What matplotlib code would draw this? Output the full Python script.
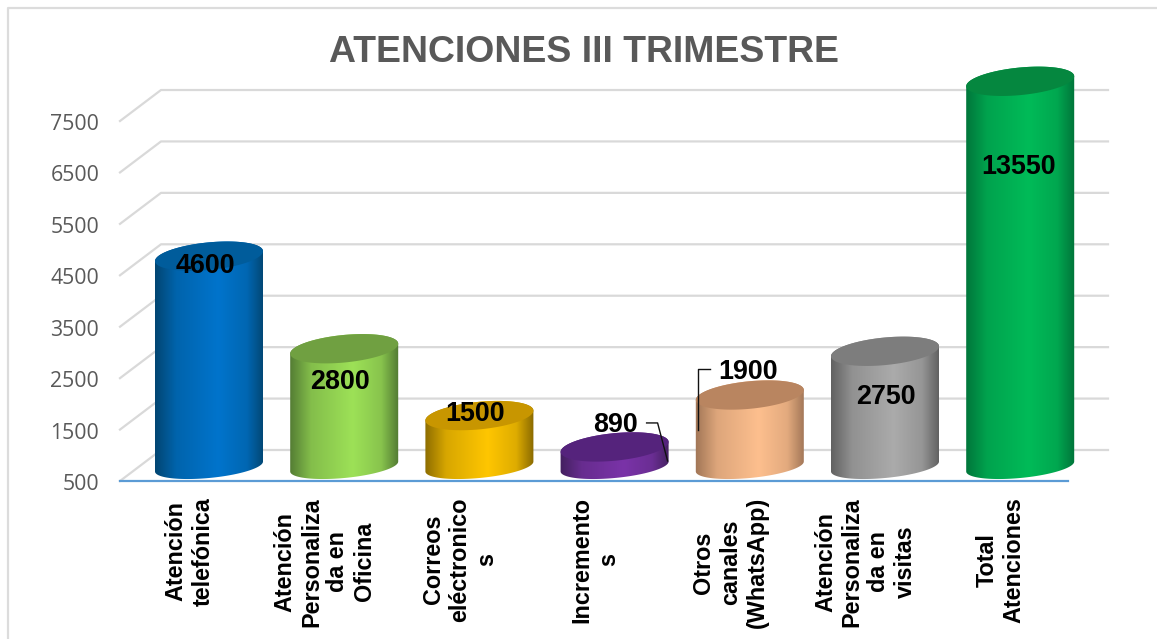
import numpy as np
import matplotlib
matplotlib.use("Agg")
import matplotlib.pyplot as plt
from matplotlib.patches import Polygon
from matplotlib.transforms import IdentityTransform, Affine2D
from matplotlib.colors import to_rgb

W, H = 1157, 639
categories = ["Atención\ntelefónica", "Atención\nPersonaliza\nda en\nOficina",
              "Correos\neléctronico\ns", "Incremento\ns",
              "Otros\ncanales\n(WhatsApp)", "Atención\nPersonaliza\nda en\nvisitas",
              "Total\nAtenciones"]
values = [4600, 2800, 1500, 890, 1900, 2750, 13550]
yticks = [500, 1500, 2500, 3500, 4500, 5500, 6500, 7500]
title = "ATENCIONES III TRIMESTRE"
edge_cols = ["#02446f", "#527a33", "#8a6a00", "#43205f", "#a07556", "#5f5f5f", "#00743a"]
mid_cols = ["#0074cc", "#9de157", "#ffc600", "#7a33a8", "#fdbf8e", "#ababab", "#00bb58"]
top_cols = ["#005c9b", "#70a041", "#c89600", "#55237c", "#b98560", "#7d7d7d", "#05873f"]
label_off = [(-4, 4), (-4, -19), (-4, 16), (1, 36), (-2, 37), (1, -32), (-2, -72)]
leaders = {3: [(32, 38), (43, 38), (53, 0)], 4: [(-40, 40), (-52, 40), (-52, -21)]}

YMIN, YMAX = 500, 8000
A, S = 54.0, 0.092              # cylinder ellipse (pixels)
B_TOP, B_BASE = 13.8, 11.5
FLOOR = 14.5                    # pixels the bars stand above the front axis
DX, DY = 41, 31                 # depth of the back wall (pixels)
AX_L, AX_R, AX_B, AX_T = 120, 1068, 481, 95.3

plt.rcParams["font.family"] = ["Liberation Sans", "DejaVu Sans"]
fig = plt.figure(figsize=(W / 100, H / 100), dpi=100, facecolor="white")

# faint panel frame
fr = fig.add_axes([0, 0, 1, 1], zorder=0)
fr.set_xlim(0, W); fr.set_ylim(H, 0); fr.axis("off")
fr.plot([8, 8, W], [H, 7.5, 7.5], color="#dcdcdc", lw=1.6)

ax = fig.add_axes([AX_L / W, 1 - AX_B / H, (AX_R - AX_L) / W, (AX_B - AX_T) / H], zorder=1)
ax.patch.set_alpha(0)
ax.set_xlim((AX_L - 209) / 135.2, (AX_R - 209) / 135.2)
ax.set_ylim(YMIN, YMAX)
ax.autoscale(False)
for s in ("left", "right", "top"):
    ax.spines[s].set_visible(False)
ax.spines["bottom"].set_color("#5b9bd5")
ax.spines["bottom"].set_linewidth(1.6)
ax.set_yticks(yticks)
ax.set_yticklabels([str(v) for v in yticks], family="Open Sans", fontsize=15.3, color="#595959")
ax.tick_params(axis="y", length=0, pad=15)
for lb in ax.get_yticklabels():
    lb.set_transform(lb.get_transform() + Affine2D().translate(0, -1))
ax.set_xticks([])

idt = IdentityTransform()
for v in yticks:
    x0, y0 = ax.transData.transform((ax.get_xlim()[0], v))
    ax.plot([x0, x0 + DX, 1108], [y0, y0 + DY, y0 + DY], color="#d9d9d9", lw=1.6,
            transform=idt, clip_on=False, zorder=1)

bars = np.minimum(values, YMAX)
inv = ax.transData.inverted()
tt = np.linspace(0, 2 * np.pi, 181)
for i, v in enumerate(bars):
    cx, yb = ax.transData.transform((i, YMIN)); yb += FLOOR
    _, yt = ax.transData.transform((i, v)); yt += FLOOR - 0.5
    up = np.linspace(0, np.pi, 91); lo = np.linspace(np.pi, 2 * np.pi, 91)
    body = np.vstack([
        np.c_[cx + A * np.cos(up), yt + S * A * np.cos(up) + B_TOP * np.sin(up)],
        np.c_[cx + A * np.cos(lo), yb + S * A * np.cos(lo) + B_BASE * np.sin(lo)],
    ])
    clip = Polygon(body, closed=True, transform=idt, fc="none", ec="none")
    ax.add_patch(clip)
    pos = [0, .2, .58, .84, 1]
    mix = [0, .66, 1, .72, 0]
    ts = np.linspace(0, 1, 216)
    m = np.interp(ts, pos, mix)[:, None]
    e, c = np.array(to_rgb(edge_cols[i])), np.array(to_rgb(mid_cols[i]))
    img = (e + (c - e) * m)[None, :, :]
    (x0, y0) = inv.transform((cx - A - 1, yb - 30))
    (x1, y1) = inv.transform((cx + A + 1, yt + 30))
    im = ax.imshow(img, extent=(x0, x1, y0, y1), aspect="auto", zorder=2, interpolation="bilinear")
    im.set_clip_box(fig.bbox)
    im.set_clip_path(clip)
    top = np.c_[cx + A * np.cos(tt), yt + S * A * np.cos(tt) + B_TOP * np.sin(tt)]
    ax.add_patch(Polygon(top, closed=True, transform=idt, fc=top_cols[i], ec="none", zorder=3, clip_on=False))

    ax.annotate(f"{values[i]}", xy=(i, v), xytext=label_off[i], textcoords="offset pixels",
                ha="center", va="center", fontsize=19.4, fontweight="bold", color="black",
                zorder=6, annotation_clip=False)
    if i in leaders:
        p = np.array(leaders[i]) + (cx, ax.transData.transform((i, v))[1])
        ax.plot(p[:, 0], p[:, 1], color="#111111", lw=1.0, transform=idt, clip_on=False, zorder=5)
    ax.annotate(categories[i], xy=(i, YMIN), xytext=(-19.5, -16), textcoords="offset pixels",
                rotation=90, ha="center", va="top", multialignment="center", linespacing=1.2,
                fontsize=16.8, fontweight="bold", color="black", annotation_clip=False)

ax.set_xlim((AX_L - 209) / 135.2, (AX_R - 209) / 135.2)
ax.set_ylim(YMIN, YMAX)
fig.text(584 / W, 1 - 52 / H, title, ha="center", va="center", fontsize=26.9,
         fontweight="bold", color="#595959")
fig.savefig("out.png", dpi=100)
